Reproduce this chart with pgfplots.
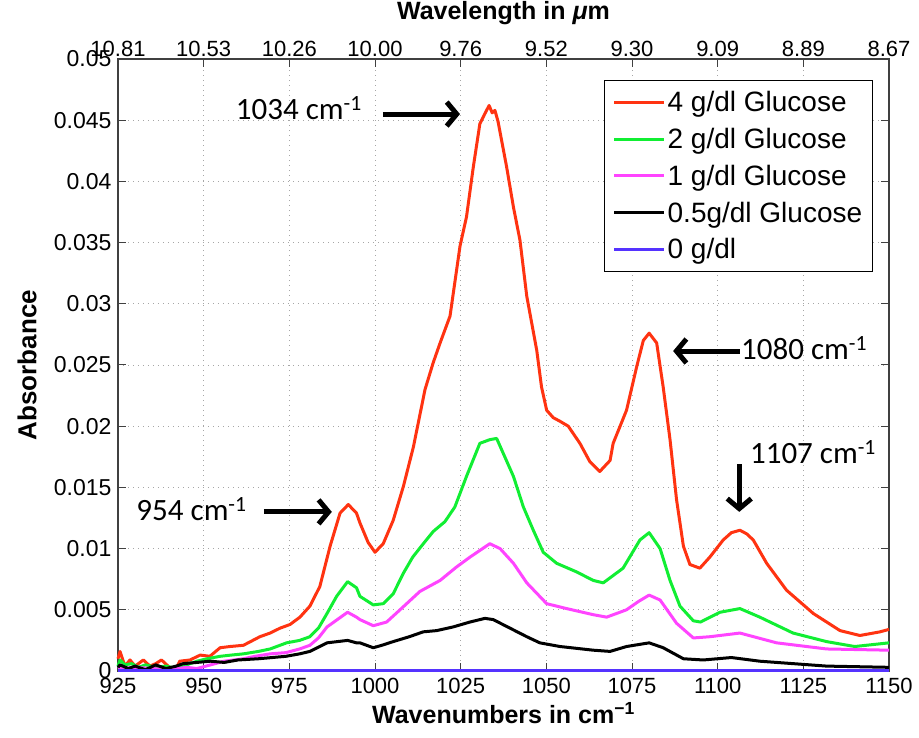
\documentclass[border=0pt]{standalone}
\usepackage{pgfplots}
\pgfplotsset{compat=1.18}
\usepackage{fontspec}
\setmainfont{Liberation Sans}
\newfontfamily\calibri{Carlito}
\usetikzlibrary{arrows.meta}
\definecolor{cred}{RGB}{255,51,17}
\definecolor{cgreen}{RGB}{17,238,51}
\definecolor{cmag}{RGB}{255,68,255}
\definecolor{cblue}{RGB}{85,51,255}
\begin{document}
\begin{tikzpicture}
\begin{axis}[
 scale only axis, width=771pt, height=612pt,
 xmin=925,xmax=1150,ymin=0,ymax=0.05,
 scaled y ticks=false, scaled x ticks=false,
 xtick={925,950,975,1000,1025,1050,1075,1100,1125,1150},
 xticklabels={925,950,975,1000,1025,1050,1075,1100,1125,1150},
 ytick={0,0.005,0.01,0.015,0.02,0.025,0.03,0.035,0.04,0.045,0.05},
 yticklabels={0,0.005,0.01,0.015,0.02,0.025,0.03,0.035,0.04,0.045,0.05},
 tick align=inside, major tick length=8pt,
 grid=major, major grid style={gray!70, line width=0.8pt, dash pattern=on 1pt off 4pt},
 axis line style={black!75, line width=1.2pt},
 tick style={black!75, line width=1pt},
 xticklabel style={font=\fontsize{22}{24}\selectfont, yshift=-4pt},
 yticklabel style={font=\fontsize{23}{26}\selectfont, xshift=-3pt},
 xlabel={Wavenumbers in cm\textsuperscript{−1}},
 ylabel={Absorbance},
 xlabel style={font=\fontsize{25}{28}\selectfont\bfseries, at={(rel axis cs:0.5,0)}, anchor=center, yshift=-42pt},
 ylabel style={font=\fontsize{26}{28}\selectfont\bfseries, at={(rel axis cs:-0.118,0.5)}, anchor=center},
 legend style={at={(0.979,0.966)}, anchor=north east, draw=black, line width=1.2pt,
   font=\fontsize{28}{30}\selectfont, cells={anchor=west}, row sep=11pt,
   inner xsep=8pt, inner ysep=9pt},
 legend image code/.code={\draw[#1,line width=3pt] (0pt,0pt) -- (50pt,0pt);},
 clip=false,
 every axis plot/.append style={line width=3pt, line join=round},
]
\addplot[cred] coordinates {
(925,0.0010) (925.6,0.0016) (927,0.0004) (928.5,0.0009) (930,0.0004) (932.4,0.0009)
(934.3,0.0004) (936,0.0006) (937.7,0.0009) (940,0.0003) (942,0.0002) (943,0.0008)
(946,0.0009) (949,0.0013) (951.8,0.0012) (954.8,0.0019) (957.7,0.0020) (961.6,0.0021)
(966.4,0.0028) (969.4,0.0031) (972.3,0.0035) (975.2,0.0038) (978.1,0.0044) (981,0.0053)
(983.9,0.0069) (986.9,0.0102) (989.8,0.0129) (992.2,0.0136) (994.6,0.0129) (995.6,0.0121)
(998,0.0105) (1000,0.0097) (1002.4,0.0104) (1005.3,0.0123) (1008.3,0.0151) (1011.2,0.0183)
(1014.6,0.0230) (1017,0.0252) (1019,0.0268) (1021.9,0.0290) (1024.8,0.0347) (1026.7,0.0371)
(1028.7,0.0412) (1030.6,0.0447) (1032,0.0455) (1033.3,0.0462) (1034.2,0.0456) (1035,0.0458)
(1035.9,0.0449) (1038.4,0.0412) (1040.4,0.0379) (1042.3,0.0352) (1044.3,0.0306) (1047.2,0.0262)
(1048.6,0.0232) (1050.1,0.0213) (1052,0.0207) (1054,0.0204) (1056.4,0.0200) (1059.8,0.0186)
(1062.7,0.0171) (1065.6,0.0163) (1068.6,0.0172) (1069.5,0.0186) (1073.4,0.0213) (1076.4,0.0249)
(1078.3,0.0270) (1080,0.0276) (1082.2,0.0268) (1084.1,0.0232) (1086.1,0.0189) (1088,0.0140)
(1090,0.0102) (1091.9,0.0087) (1094.8,0.0084) (1097.7,0.0093) (1101.6,0.0107) (1104,0.0113)
(1106.5,0.0115) (1108.5,0.0112) (1110.4,0.0107) (1114.3,0.0088) (1120.1,0.0066) (1127.9,0.0047)
(1135.7,0.0033) (1141.5,0.0029) (1147.4,0.0032) (1150,0.0034)};
\addlegendentry{4 g/dl Glucose}
\addplot[cgreen] coordinates {
(925,0.0004) (925.6,0.0009) (927,0.0005) (929,0.0006) (931,0.0003) (933,0.0005)
(936,0.0003) (939,0.0004) (942,0.0002) (945,0.0005) (948,0.0008) (951,0.0010)
(954.8,0.0012) (958,0.0013) (961.6,0.0014) (966,0.0016) (969.4,0.0018) (974.2,0.0023)
(978,0.0025) (981,0.0028) (983.5,0.0035) (986,0.0047) (988.8,0.0061) (992,0.0073)
(994.6,0.0068) (995.6,0.0061) (999.5,0.0054) (1002.4,0.0055) (1005.3,0.0063) (1008.3,0.0080)
(1011,0.0093) (1014.1,0.0104) (1017,0.0114) (1020.4,0.0122) (1023.3,0.0134) (1026.7,0.0159)
(1030.6,0.0186) (1033.5,0.0189) (1035.5,0.0190) (1037.4,0.0178) (1040.4,0.0159) (1043.3,0.0134)
(1046.2,0.0115) (1049.1,0.0097) (1053,0.0088) (1058.8,0.0081) (1063.7,0.0074) (1066.6,0.0072)
(1072.4,0.0084) (1077.3,0.0107) (1080,0.0113) (1083.2,0.0100) (1086.1,0.0074) (1089,0.0053)
(1092.9,0.0041) (1095,0.0040) (1100.7,0.0048) (1106.5,0.0051) (1112.3,0.0044) (1122,0.0031)
(1131.8,0.0024) (1140,0.0020) (1150,0.0023)};
\addlegendentry{2 g/dl Glucose}
\addplot[cmag] coordinates {
(925,0.0002) (930,0.0003) (935,0.0002) (940,0.0001) (945,0.0003) (948,0.0002)
(952,0.0005) (956,0.0008) (961.6,0.0010) (965,0.0012) (969.4,0.0014) (974,0.0015)
(978,0.0018) (981,0.0021) (983.5,0.0027) (986,0.0036) (989,0.0042) (992,0.0048)
(994.6,0.0044) (995.6,0.0042) (999.5,0.0037) (1003.4,0.0040) (1007.3,0.0050) (1013.1,0.0065)
(1019,0.0074) (1023.8,0.0085) (1027.7,0.0093) (1033.5,0.0104) (1036.5,0.0100) (1040.4,0.0088)
(1044.3,0.0072) (1050.1,0.0055) (1055.9,0.0051) (1063.7,0.0046) (1067.6,0.0044) (1073.4,0.0050)
(1077,0.0057) (1080,0.0062) (1083.2,0.0058) (1088,0.0039) (1092.9,0.0027) (1097.7,0.0028)
(1106.5,0.0031) (1117.2,0.0023) (1131.8,0.0018) (1150,0.0017)};
\addlegendentry{1 g/dl Glucose}
\addplot[black] coordinates {
(925,0.0003) (925.6,0.0005) (928,0.0002) (930,0.0004) (933,0.0001) (936,0.0005)
(939,0.0002) (942,0.0004) (944,0.0006) (948,0.0007) (952,0.0008) (956,0.0007)
(960,0.0009) (966,0.0010) (970,0.0011) (974,0.0012) (978,0.0014) (981,0.0016)
(986,0.0023) (989,0.0024) (992,0.0025) (994.6,0.0023) (995.6,0.0023) (999.5,0.0019)
(1002,0.0021) (1005.3,0.0024) (1010,0.0028) (1014.1,0.0032) (1018,0.0033) (1022.8,0.0036)
(1027.7,0.0040) (1032.1,0.0043) (1034.5,0.0042) (1039.4,0.0035) (1044.3,0.0028) (1048.1,0.0023)
(1054,0.0020) (1063.7,0.0017) (1068.6,0.0016) (1073.4,0.0020) (1080,0.0023) (1084.1,0.0019)
(1090,0.0010) (1095.8,0.0009) (1104,0.0011) (1112.3,0.0008) (1131.8,0.0004) (1150,0.0003)};
\addlegendentry{0.5g/dl Glucose}
\addplot[cblue] coordinates {(925,0) (1150,0)};
\addlegendentry{0 g/dl}
\coordinate (sw) at (rel axis cs:0,0);
\coordinate (ne) at (rel axis cs:1,1);
\begin{scope}[line width=5pt, -{Straight Barb[length=10pt,width=24pt]}]
\draw (axis cs:1002.3,0.0455) -- (axis cs:1024.8,0.0455);
\draw (axis cs:967.6,0.0130) -- (axis cs:987.4,0.0130);
\draw (axis cs:1106.5,0.02614) -- (axis cs:1087.0,0.02614);
\draw (axis cs:1106.3,0.01691) -- (axis cs:1106.3,0.0130);
\end{scope}
\begin{scope}[every node/.style={font=\calibri\fontsize{31}{34}\selectfont, inner sep=0pt}]
\node[anchor=east] at (axis cs:996.2,0.0460) {1034 cm\textsuperscript{-1}};
\node[anchor=east] at (axis cs:962.6,0.0132) {954 cm\textsuperscript{-1}};
\node[anchor=west] at (axis cs:1106.8,0.0264) {1080 cm\textsuperscript{-1}};
\node[anchor=west] at (axis cs:1109.4,0.0179) {1107 cm\textsuperscript{-1}};
\end{scope}
\end{axis}
\begin{axis}[
 scale only axis, width=771pt, height=612pt,
 xmin=925,xmax=1150,ymin=0,ymax=0.05,
 axis x line*=top, hide y axis, scaled y ticks=false, scaled x ticks=false,
 xtick={925,950,975,1000,1025,1050,1075,1100,1125,1150},
 xticklabels={10.81,10.53,10.26,10.00,9.76,9.52,9.30,9.09,8.89,8.67},
 tick align=inside, major tick length=8pt,
 axis line style={black!75, line width=1.2pt},
 tick style={black!75, line width=1pt},
 xticklabel style={font=\fontsize{22}{24}\selectfont, yshift=-1pt},
 xlabel={Wavelength in \textit{μ}m},
 xlabel style={font=\fontsize{25}{28}\selectfont\bfseries, at={(rel axis cs:0.5,1)}, anchor=center, yshift=46pt},
]
\addplot[draw=none] coordinates {(925,0) (1150,0.05)};
\end{axis}
\pgfresetboundingbox
\path ([shift={(-118pt,-67pt)}]sw) rectangle ([shift={(30pt,59pt)}]ne);
\end{tikzpicture}
\end{document}
